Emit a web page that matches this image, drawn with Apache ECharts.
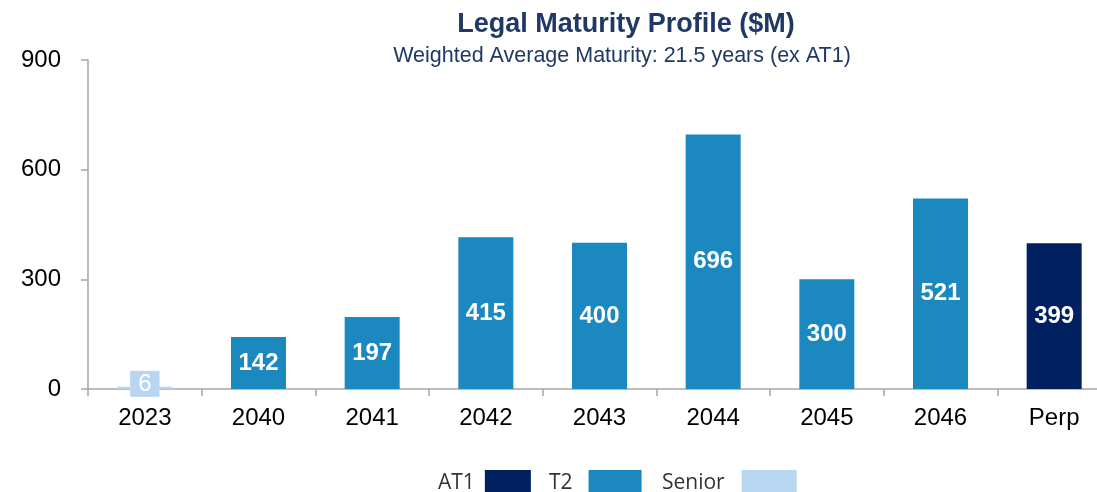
<!DOCTYPE html>
<html>
<head>
<meta charset="utf-8">
<script src="https://cdn.jsdelivr.net/npm/echarts@6/dist/echarts.min.js"></script>
<style>
  html, body { margin: 0; padding: 0; background: #fff; overflow: hidden; }
  /* a little wider than the window: the last category runs past the right edge */
  #chart { width: 1111px; height: 492px; }
</style>
</head>
<body>
<div id="chart"></div>
<script>
// values ($M)
var categories = ['2023', '2040', '2041', '2042', '2043', '2044', '2045', '2046', 'Perp'];
var at1Values = ['-', '-', '-', '-', '-', '-', '-', '-', 399];
var t2Values = ['-', 142, 197, 415, 400, 696, 300, 521, '-'];
var seniorValues = [6, '-', '-', '-', '-', '-', '-', '-', '-'];
var yTicks = [0, 300, 600, 900];

var colors = { AT1: '#002060', T2: '#1B88BF', Senior: '#B8D6F1' };
var axisFont = 'Liberation Sans, Arial, sans-serif';
var legendFont = 'Open Sans, Noto Sans, sans-serif';

var myChart = echarts.init(document.getElementById('chart'));

var barLabel = {
    show: true,
    position: 'inside',
    color: '#fff',
    fontWeight: 'bold',
    fontSize: 24,
    fontFamily: axisFont
};

// one legend per item: the boxes are not all the same width in the original
function legendItem(name, left, boxWidth, gap) {
    return {
        left: left,
        top: 465,
        align: 'right',
        icon: 'rect',
        itemWidth: boxWidth,
        itemHeight: 26,
        textStyle: {
            color: '#333',
            fontSize: 21,
            fontFamily: legendFont,
            padding: [0, gap, 0, 0]
        },
        data: [name]
    };
}

myChart.setOption({
    animation: false,
    title: [
        {
            text: 'Legal Maturity Profile ($M)',
            left: 621,
            textAlign: 'center',
            top: 6,
            textStyle: {
                color: '#1F3864',
                fontSize: 27,
                fontWeight: 'bold',
                fontFamily: axisFont
            }
        },
        {
            text: 'Weighted Average Maturity: 21.5 years (ex AT1)',
            left: 617,
            textAlign: 'center',
            top: 40,
            textStyle: {
                color: '#1F3864',
                fontSize: 21.5,
                fontWeight: 'normal',
                fontFamily: axisFont
            }
        }
    ],
    legend: [
        legendItem('AT1', 433, 46, 5),
        legendItem('T2', 544, 53, 11),
        legendItem('Senior', 657, 55, 12)
    ],
    grid: {
        left: 88,
        right: 0,
        top: 60,
        bottom: 103,
        containLabel: false
    },
    xAxis: {
        type: 'category',
        data: categories,
        axisLine: { lineStyle: { color: '#A6A6A6', width: 1.5 } },
        axisTick: { show: true, length: 7, lineStyle: { color: '#A6A6A6', width: 1.5 } },
        axisLabel: {
            color: '#000',
            fontSize: 24,
            margin: 17,
            fontFamily: axisFont
        }
    },
    yAxis: {
        type: 'value',
        min: yTicks[0],
        max: yTicks[yTicks.length - 1],
        interval: 300,
        axisLine: { show: true, lineStyle: { color: '#A6A6A6', width: 1.5 } },
        axisTick: { show: true, length: 7, lineStyle: { color: '#A6A6A6', width: 1.5 } },
        splitLine: { show: false },
        axisLabel: {
            color: '#000',
            fontSize: 24,
            margin: 27,
            fontFamily: axisFont
        }
    },
    series: [
        {
            name: 'AT1',
            type: 'bar',
            stack: 'total',
            barWidth: 55,
            itemStyle: { color: colors.AT1 },
            label: barLabel,
            data: at1Values
        },
        {
            name: 'T2',
            type: 'bar',
            stack: 'total',
            barWidth: 55,
            itemStyle: { color: colors.T2 },
            label: barLabel,
            data: t2Values
        },
        {
            name: 'Senior',
            type: 'bar',
            stack: 'total',
            barWidth: 55,
            itemStyle: { color: colors.Senior },
            label: {
                show: true,
                position: 'inside',
                color: '#fff',
                fontSize: 24,
                fontFamily: axisFont,
                backgroundColor: colors.Senior,
                padding: [1, 8, 1, 8],
                offset: [0, -4]
            },
            data: seniorValues
        }
    ]
});
</script>
</body>
</html>
